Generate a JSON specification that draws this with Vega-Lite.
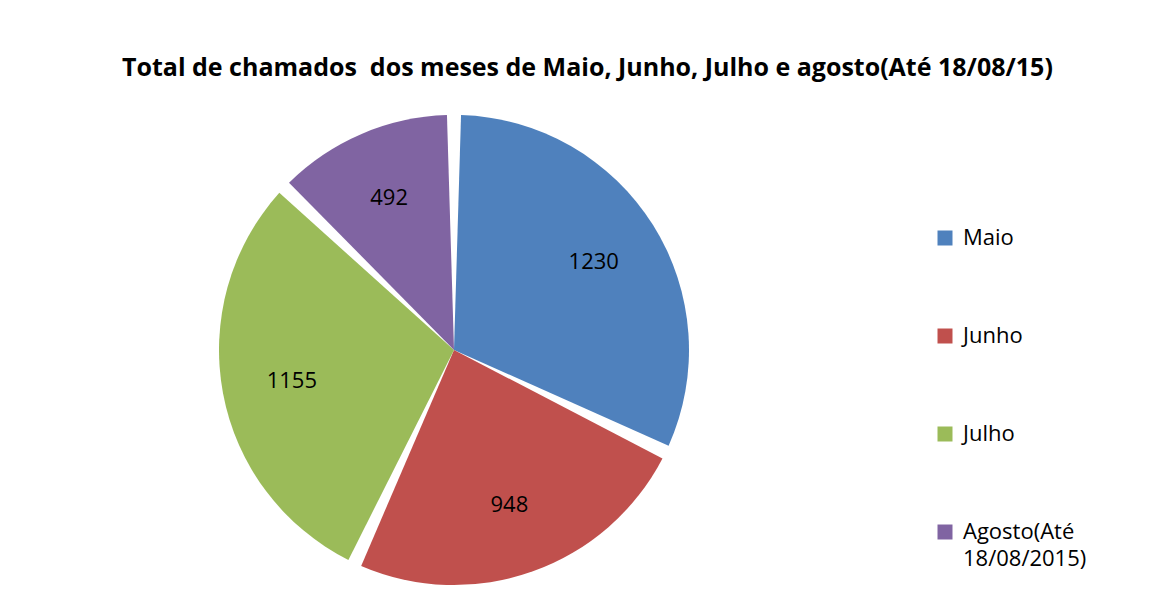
{
  "$schema": "https://vega.github.io/schema/vega-lite/v6.json",
  "width": 1159,
  "height": 615,
  "autosize": {"type": "fit", "contains": "padding"},
  "padding": {"left": 10, "right": 72, "top": 56, "bottom": 8},
  "background": "white",
  "title": {
    "text": "Total de chamados\u00a0 dos meses de Maio, Junho, Julho e agosto(Até 18/08/15)",
    "font": "Open Sans",
    "fontSize": 25,
    "fontWeight": "bold",
    "color": "#000000",
    "anchor": "start",
    "offset": 12,
    "dx": 112
  },
  "data": {
    "values": [
      {"mes": "Maio", "chamados": 1230, "ordem": 1},
      {"mes": "Junho", "chamados": 948, "ordem": 2},
      {"mes": "Julho", "chamados": 1155, "ordem": 3},
      {"mes": "Agosto(Até 18/08/2015)", "chamados": 492, "ordem": 4}
    ]
  },
  "encoding": {
    "theta": {"field": "chamados", "type": "quantitative", "stack": true},
    "order": {"field": "ordem", "type": "quantitative"},
    "color": {
      "field": "mes",
      "type": "nominal",
      "sort": ["Maio", "Junho", "Julho", "Agosto(Até 18/08/2015)"],
      "scale": {
        "domain": ["Maio", "Junho", "Julho", "Agosto(Até 18/08/2015)"],
        "range": ["#4F81BD", "#C0504D", "#9BBB59", "#8064A2"]
      },
      "legend": {
        "title": " ",
        "titleFontSize": 1,
        "titlePadding": 133,
        "orient": "right",
        "symbolType": "square",
        "symbolSize": 225,
        "symbolStrokeWidth": 0,
        "labelOffset": 7,
        "labelFont": "Open Sans",
        "labelFontSize": 22,
        "labelColor": "#000000",
        "labelLimit": 300,
        "rowPadding": 76,
        "offset": 36,
        "labelExpr": "datum.label == 'Agosto(Até 18/08/2015)' ? ['Agosto(Até', '18/08/2015)'] : datum.label"
      }
    }
  },
  "layer": [
    {
      "mark": {"type": "arc", "outerRadius": 235, "padAngle": 0.06, "stroke": null}
    },
    {
      "mark": {"type": "text", "radius": 165, "font": "Open Sans", "fontSize": 22, "color": "#000000"},
      "encoding": {
        "text": {"field": "chamados", "type": "quantitative"},
        "color": {"value": "#000000"}
      }
    }
  ],
  "config": {"view": {"stroke": null}, "style": {"guide-label": {"lineHeight": 27}}}
}
